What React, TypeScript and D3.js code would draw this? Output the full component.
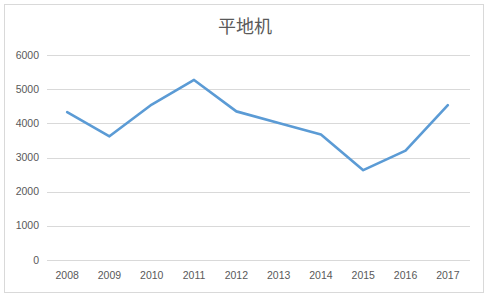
import React from "react";
import * as d3 from "d3";

const years = ["2008","2009","2010","2011","2012","2013","2014","2015","2016","2017"];
const values = [4330, 3620, 4550, 5270, 4350, 4010, 3670, 2630, 3200, 4530];
const yTicks = [0, 1000, 2000, 3000, 4000, 5000, 6000];
const title = "平地机";

export default function App() {
  const W = 489, H = 298;
  const x = d3.scaleBand<string>().domain(years).range([46, 469]);
  const y = d3.scaleLinear().domain([0, 6000]).range([260, 55]);
  const line = d3.line<number>()
    .x((_, i) => (x(years[i]) as number) + x.bandwidth() / 2)
    .y(d => y(d));
  return (
    <svg width={W} height={H} style={{ position: "absolute", left: 0, top: 0, background: "#fff" }}>
      <rect x={4.5} y={4.5} width={479} height={288} fill="#fff" stroke="#d9d9d9" />
      <text x={245} y={33} textAnchor="middle" fontFamily="'Noto Sans CJK SC', sans-serif" fontSize={18} fill="#595959">{title}</text>
      {yTicks.map(t => (
        <g key={t}>
          <line x1={47} x2={470} y1={Math.round(y(t)) + 0.5} y2={Math.round(y(t)) + 0.5} stroke="#d9d9d9" />
          <text x={39} y={y(t) + 3.5} textAnchor="end" fontFamily="'Liberation Sans', sans-serif" fontSize={10.5} fill="#595959">{t}</text>
        </g>
      ))}
      {years.map(yr => (
        <text key={yr} x={(x(yr) as number) + x.bandwidth() / 2} y={279} textAnchor="middle" fontFamily="'Liberation Sans', sans-serif" fontSize={10.5} fill="#595959">{yr}</text>
      ))}
      <path d={line(values) || ""} fill="none" stroke="#5b9bd5" strokeWidth={2.6} strokeLinejoin="round" strokeLinecap="round" />
    </svg>
  );
}
